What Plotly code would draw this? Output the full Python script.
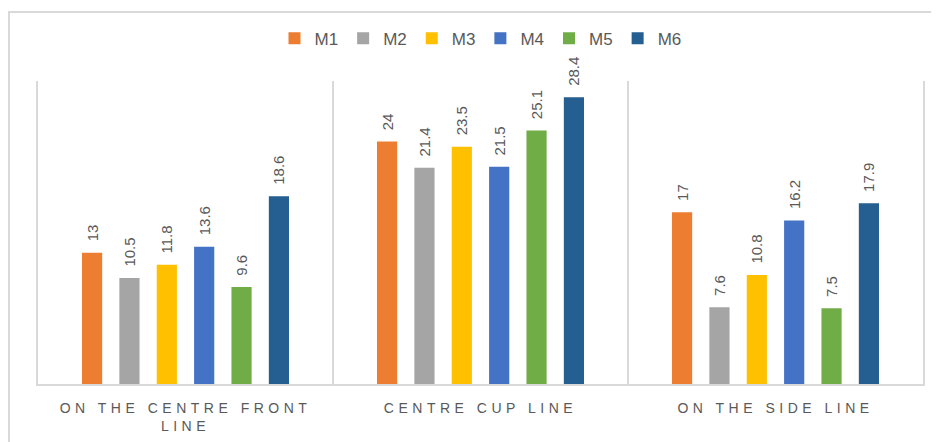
import plotly.graph_objects as go

categories = ["ON THE CENTRE FRONT<br>LINE", "CENTRE CUP LINE", "ON THE SIDE LINE"]
series_names = ["M1", "M2", "M3", "M4", "M5", "M6"]
m1 = [13, 24, 17]
m2 = [10.5, 21.4, 7.6]
m3 = [11.8, 23.5, 10.8]
m4 = [13.6, 21.5, 16.2]
m5 = [9.6, 25.1, 7.5]
m6 = [18.6, 28.4, 17.9]
series_values = [m1, m2, m3, m4, m5, m6]
colors = ["#ED7D31", "#A5A5A5", "#FFC000", "#4472C4", "#70AD47", "#255E91"]


def spaced(label):
    return "<br>".join(f'<span style="letter-spacing:4.5px">{part}</span>' for part in label.split("<br>"))


tick_text = [spaced(c) for c in categories]

fig = go.Figure()
for name, vals, col in zip(series_names, series_values, colors):
    fig.add_trace(go.Bar(
        name=name, x=categories, y=vals, marker_color=col,
        marker_line_width=0,
        text=["\u00a0\u00a0" + (f"{v:g}") for v in vals],
        textposition="outside", textangle=-90, constraintext="none",
        textfont=dict(color="#595959", size=15, family="Liberation Sans Narrow, Liberation Sans, sans-serif"),
        cliponaxis=False,
    ))

# page body adds an 8px offset; figure sized to fill the remaining window
fig.update_layout(
    width=931, height=434,
    margin=dict(l=30, r=16, t=73, b=58, autoexpand=False),
    paper_bgcolor="white", plot_bgcolor="white",
    barmode="group", bargap=0.24, bargroupgap=0.46,
    font=dict(family="Liberation Sans, sans-serif", color="#595959"),
    legend=dict(orientation="h", x=0.5, xanchor="center", y=1.14, yanchor="middle",
                bgcolor="rgba(0,0,0,0)",
                font=dict(size=17, color="#595959"), itemwidth=30, traceorder="normal"),
    showlegend=True,
)
fig.update_xaxes(
    type="category", tickson="boundaries", showgrid=True, gridcolor="#D9D9D9", gridwidth=2,
    showline=True, linecolor="#D9D9D9", linewidth=2, ticks="",
    tickmode="array", tickvals=categories, ticktext=tick_text,
    tickfont=dict(size=14, color="#595959"), ticklabelstandoff=10,
)
fig.update_yaxes(
    range=[0, 30], showgrid=False, showticklabels=False, zeroline=False,
    showline=True, mirror=True, linecolor="#D9D9D9", linewidth=2, ticks="",
)
fig.add_shape(type="rect", xref="paper", yref="paper",
              x0=-0.0328, x1=1.05, y0=-0.4, y1=1.2277,
              line=dict(color="#D9D9D9", width=2), fillcolor="rgba(0,0,0,0)", layer="below")

fig.write_html("out.html")
